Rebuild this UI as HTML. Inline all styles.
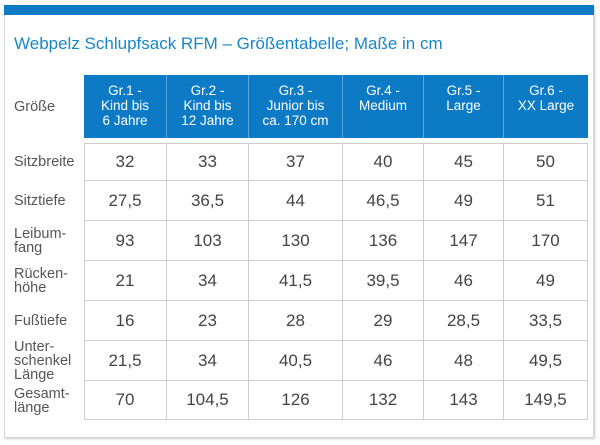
<!DOCTYPE html><html><head><meta charset="utf-8"><style>
body{margin:0;width:600px;height:445px;background:#fff;font-family:"Liberation Sans",sans-serif;position:relative;overflow:hidden}
.a{position:absolute}
.frame{left:4px;top:5px;width:588px;height:431px;border:1px solid #d6d6d6;box-shadow:1px 1px 2px #ccc}
.bar{left:4px;top:5px;width:590px;height:10px;background:#0c7ac4}
.title{left:14px;top:34px;font-size:17px;color:#1a86c8}
.h{background:#0c7ac4;color:#fff;font-size:13.5px;line-height:15px;text-align:center;top:75px;height:63px;box-sizing:border-box;padding-top:8px;border-right:1px solid #5aa6d8}
.lab{left:14px;font-size:14.5px;line-height:14px;color:#555;display:flex;align-items:center}
.c{font-size:17px;color:#444;text-align:center;display:flex;align-items:center;justify-content:center;border-right:1px solid #ccc;border-bottom:1px solid #ccc;box-sizing:border-box}
</style></head><body>
<div class="a frame"></div><div class="a bar"></div>
<div class="a title">Webpelz Schlupfsack RFM – Größentabelle; Maße in cm</div>
<div class="a lab" style="top:75px;height:63px">Größe</div>
<div class="a h" style="left:84px;width:83px">Gr.1 -<br>Kind bis<br>6 Jahre</div>
<div class="a h" style="left:167px;width:82px">Gr.2 -<br>Kind bis<br>12 Jahre</div>
<div class="a h" style="left:249px;width:94px">Gr.3 -<br>Junior bis<br>ca. 170 cm</div>
<div class="a h" style="left:343px;width:81px">Gr.4 -<br>Medium</div>
<div class="a h" style="left:424px;width:80px">Gr.5 -<br>Large</div>
<div class="a h" style="left:504px;width:84px;border-right:none">Gr.6 -<br>XX Large</div>
<div class="a" style="left:84px;top:143px;width:504px;height:277px;border-left:1px solid #ccc;border-top:1px solid #ccc;box-sizing:border-box"></div>
<div id="t"></div>
<script>
var rows=[["Sitzbreite",32,33,37,40,45,50],["Sitztiefe","27,5","36,5",44,"46,5",49,51],["Leibum-<br>fang",93,103,130,136,147,170],["Rücken-<br>höhe",21,34,"41,5","39,5",46,49],["Fußtiefe",16,23,28,29,"28,5","33,5"],["Unter-<br>schenkel<br>Länge","21,5",34,"40,5",46,48,"49,5"],["Gesamt-<br>länge",70,"104,5",126,132,143,"149,5"]];
var ys=[143,181,221,261,301,341,381,420],xs=[84,167,249,343,424,504,588],h="";
rows.forEach(function(r,i){var t=ys[i],hh=ys[i+1]-t;
h+='<div class="a lab" style="top:'+t+'px;height:'+hh+'px">'+r[0]+'</div>';
for(var j=0;j<6;j++)h+='<div class="a c" style="left:'+xs[j]+'px;top:'+t+'px;width:'+(xs[j+1]-xs[j])+'px;height:'+hh+'px">'+r[j+1]+'</div>';});
document.getElementById("t").innerHTML=h;
</script>
</body></html>
